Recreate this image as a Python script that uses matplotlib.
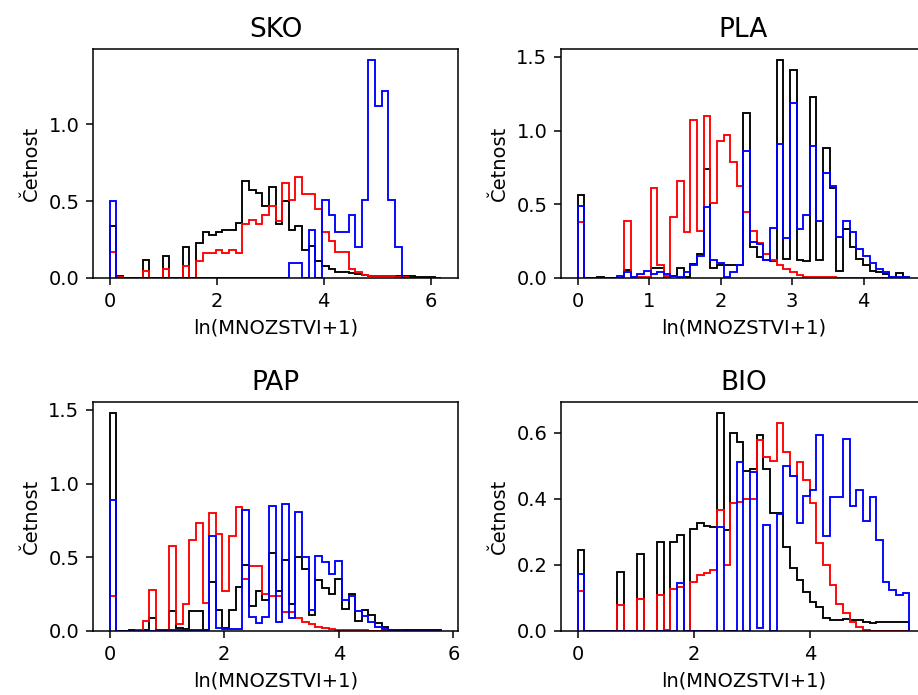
import numpy as np
import matplotlib
matplotlib.use("Agg")
import matplotlib.pyplot as plt

# histogram data (density, 50 common bins per panel)
titles = ["SKO", "PLA", "PAP", "BIO"]
x_max = {"SKO": 6.2, "PLA": 4.64, "PAP": 5.79, "BIO": 5.7}

black_sko = [0.34, 0.01, 0, 0, 0, 0.12, 0, 0, 0.145, 0,
             0, 0.20, 0, 0.23, 0.30, 0.28, 0.30, 0.31, 0.31, 0.36,
             0.63, 0.57, 0.555, 0.47, 0.59, 0.35, 0.50, 0.31, 0.34, 0.18,
             0.21, 0.11, 0.08, 0.06, 0.04, 0.04, 0.03, 0.025, 0.02, 0.015,
             0.015, 0.015, 0.015, 0.01, 0.01, 0.01, 0.008, 0.006, 0.004, 0.003]
red_sko = [0.17, 0.005, 0, 0, 0, 0.044, 0, 0, 0.06, 0,
           0, 0.08, 0, 0.11, 0.16, 0.16, 0.185, 0.16, 0.185, 0.16,
           0.35, 0.375, 0.35, 0.41, 0.47, 0.37, 0.62, 0.51, 0.66, 0.545,
           0.545, 0.45, 0.30, 0.24, 0.17, 0.17, 0.06, 0.04, 0.02, 0.015,
           0.01, 0.01, 0.01, 0.005, 0.005, 0, 0, 0, 0, 0]
blue_sko = [0.50, 0, 0, 0, 0, 0, 0, 0, 0, 0,
            0, 0, 0, 0, 0, 0, 0, 0, 0, 0,
            0, 0, 0, 0, 0, 0, 0, 0.10, 0.10, 0,
            0.31, 0, 0.51, 0.41, 0.30, 0.30, 0.41, 0.20, 0.51, 1.42,
            1.12, 1.22, 0.51, 0.20, 0, 0, 0, 0, 0, 0]

black_pla = [0.56, 0, 0, 0.01, 0, 0, 0, 0.055, 0, 0,
             0, 0.065, 0.066, 0.005, 0.015, 0.065, 0.005, 0.096, 0.16, 0.74,
             0.07, 0.09, 0.085, 0.085, 0.085, 1.12, 0.21, 0.14, 0.12, 0.115,
             1.48, 0.13, 1.41, 0.12, 0.115, 1.23, 0.12, 0.88, 0.61, 0.05,
             0.33, 0.21, 0.13, 0.085, 0.05, 0.04, 0.03, 0.01, 0.035, 0.01]
red_pla = [0.38, 0, 0, 0, 0, 0, 0, 0.385, 0.01, 0.01,
           0.01, 0.614, 0.085, 0.016, 0.415, 0.655, 0.31, 1.07, 0.32, 1.10,
           0.51, 0.93, 0.97, 0.79, 0.625, 0.45, 0.32, 0.235, 0.165, 0.12,
           0.085, 0.06, 0.04, 0.02, 0.01, 0.005, 0.005, 0.005, 0.005, 0,
           0, 0, 0, 0, 0, 0, 0, 0, 0, 0]
blue_pla = [0.49, 0, 0, 0, 0, 0, 0.015, 0.04, 0.01, 0.03,
            0.045, 0.03, 0.04, 0.03, 0.015, 0.01, 0.04, 0.085, 0.15, 0.48,
            0.12, 0.10, 0.01, 0.04, 0.09, 0.86, 0.245, 0.23, 0.12, 0.34,
            0.91, 0.27, 1.19, 0.33, 0.43, 0.895, 0.39, 0.71, 0.625, 0.28,
            0.39, 0.31, 0.20, 0.15, 0.10, 0.06, 0.04, 0.01, 0.01, 0.01]

black_pap = [1.48, 0, 0, 0.005, 0.005, 0.01, 0.09, 0.005, 0.005, 0.135,
             0.02, 0.015, 0.135, 0.135, 0.01, 0.33, 0.145, 0.02, 0.145, 0.30,
             0.45, 0.17, 0.27, 0.21, 0.53, 0.27, 0.48, 0.18, 0.50, 0.42,
             0.107, 0.345, 0.295, 0.25, 0.35, 0.15, 0.25, 0.07, 0.145, 0.107,
             0.054, 0.03, 0.01, 0.005, 0.005, 0.005, 0.005, 0.005, 0.005, 0.005]
red_pap = [0.235, 0, 0, 0, 0.005, 0.07, 0.28, 0.005, 0.005, 0.58,
           0.045, 0.18, 0.62, 0.735, 0.19, 0.80, 0.655, 0.27, 0.645, 0.84,
           0.35, 0.44, 0.44, 0.25, 0.235, 0.235, 0.13, 0.13, 0.085, 0.06,
           0.045, 0.03, 0.023, 0.016, 0.01, 0.005, 0.005, 0.005, 0.005, 0,
           0, 0, 0, 0, 0, 0, 0, 0, 0, 0]
blue_pap = [0.89, 0, 0, 0, 0, 0, 0, 0.005, 0.005, 0.005,
            0.005, 0.005, 0.005, 0.005, 0.005, 0.645, 0.02, 0.015, 0.015, 0.015,
            0.82, 0.095, 0.055, 0.095, 0.85, 0.06, 0.86, 0.085, 0.81, 0.50,
            0.14, 0.51, 0.47, 0.385, 0.475, 0.21, 0.235, 0.136, 0.10, 0.06,
            0.03, 0.012, 0.01, 0.005, 0, 0, 0, 0, 0, 0]

black_bio = [0.244, 0, 0, 0, 0, 0, 0.18, 0, 0, 0.232,
             0, 0, 0.27, 0, 0.27, 0.29, 0, 0.31, 0.327, 0.317,
             0.315, 0.66, 0.307, 0.598, 0.573, 0.485, 0.49, 0.593, 0.49, 0.356,
             0.356, 0.255, 0.19, 0.154, 0.118, 0.088, 0.072, 0.04, 0.034, 0.032,
             0.037, 0.032, 0.034, 0.027, 0.024, 0.027, 0.027, 0.027, 0.027, 0.027]
red_bio = [0.121, 0, 0, 0, 0, 0, 0.08, 0, 0, 0.098,
           0, 0, 0.108, 0.002, 0.128, 0.133, 0, 0.148, 0.169, 0.174,
           0.186, 0.366, 0.199, 0.388, 0.39, 0.40, 0.40, 0.578, 0.527, 0.514,
           0.63, 0.542, 0.47, 0.51, 0.456, 0.388, 0.267, 0.199, 0.138, 0.083,
           0.053, 0.027, 0.012, 0.002, 0, 0, 0, 0, 0, 0]
blue_bio = [0.172, 0, 0, 0, 0, 0, 0, 0, 0, 0,
            0, 0, 0, 0, 0, 0.145, 0, 0, 0, 0,
            0, 0.315, 0, 0, 0.512, 0, 0.48, 0.01, 0.32, 0,
            0.355, 0.50, 0.47, 0.327, 0.41, 0.426, 0.593, 0.287, 0.406, 0.406,
            0.58, 0.378, 0.426, 0.333, 0.406, 0.275, 0.148, 0.123, 0.108, 0.115]

hists = {
    "SKO": (black_sko, red_sko, blue_sko),
    "PLA": (black_pla, red_pla, blue_pla),
    "PAP": (black_pap, red_pap, blue_pap),
    "BIO": (black_bio, red_bio, blue_bio),
}
colors = ["black", "red", "blue"]

plt.rcParams.update({
    "font.size": 14,
    "axes.titlesize": 19,
    "axes.titlepad": 8.4,
    "axes.labelpad": 5.6,
    "axes.linewidth": 1.1,
    "xtick.major.size": 4.9,
    "ytick.major.size": 4.9,
    "xtick.major.width": 1.1,
    "ytick.major.width": 1.1,
    "xtick.major.pad": 4.9,
    "ytick.major.pad": 4.9,
})

fig, axs = plt.subplots(2, 2, figsize=(9.18, 6.95), dpi=100)
fig.subplots_adjust(left=0.1013, right=1.0087, bottom=0.0921, top=0.9295,
                    wspace=0.282, hspace=0.5415)

for ax, name in zip(axs.flat, titles):
    edges = np.linspace(0, x_max[name], 51)
    for vals, c in zip(hists[name], colors):
        ax.stairs(vals, edges, color=c, linewidth=1.35)
    ax.set_title(name)
    ax.set_xlabel("ln(MNOZSTVI+1)")
    ax.set_ylabel("Četnost")

fig.savefig("out.png", dpi=100)
